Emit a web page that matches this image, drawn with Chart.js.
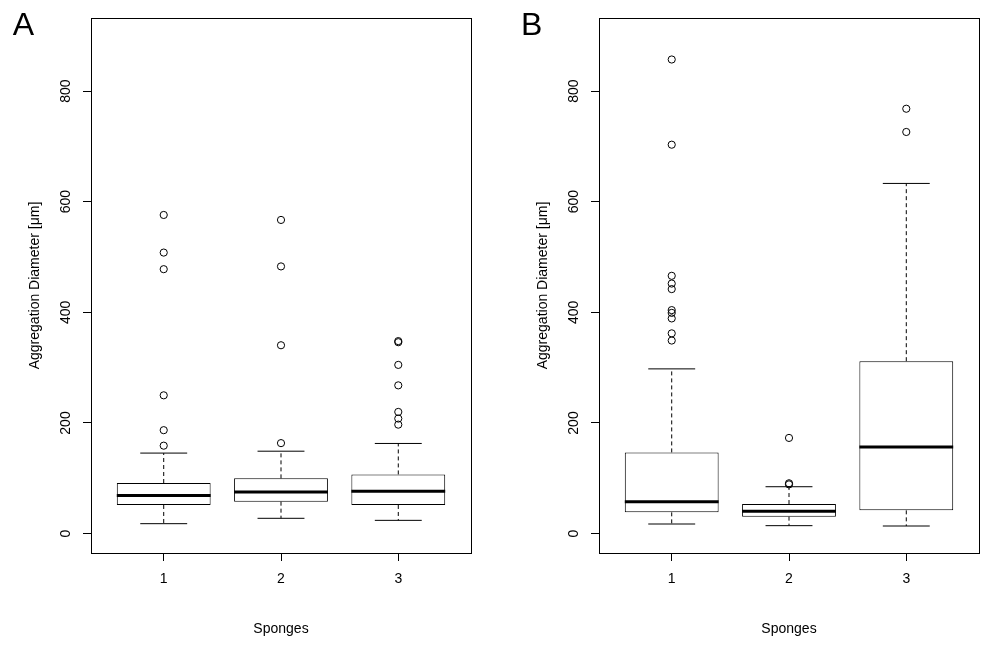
<!DOCTYPE html>
<html>
<head>
<meta charset="utf-8">
<script src="https://cdn.jsdelivr.net/npm/chart.js@4.4.1/dist/chart.umd.min.js"></script>
<style>
  html, body { margin: 0; padding: 0; background: #fff; }
  #wrap { position: relative; width: 998px; height: 653px; }
  canvas { position: absolute; top: 0; }
</style>
</head>
<body>
<div id="wrap">
  <canvas id="chartA" width="499" height="653" style="left:0"></canvas>
  <canvas id="chartB" width="499" height="653" style="left:499px"></canvas>
</div>
<script>
const sponges = ['1', '2', '3'];
const yTicks = [0, 200, 400, 600, 800];

// panel A
const aLow = [18, 27.7, 24];
const aQ1 = [51.8, 57.8, 51.8];
const aMedian = [69, 75.2, 76.4];
const aQ3 = [91.5, 99.9, 107];
const aHigh = [145.6, 149, 163];
const aOutliers = [
    [576, 508, 478, 250, 187, 159],
    [567, 483, 340.5, 163.6],
    [348, 346, 305, 268, 220, 208, 197]
];

// panel B
const bLow = [17.4, 14.4, 13.8];
const bQ1 = [38.5, 30.7, 42.1];
const bMedian = [57.8, 40.3, 156.4];
const bQ3 = [146.8, 53.5, 311.7];
const bHigh = [297.8, 84.8, 633];
const bOutliers = [
    [857, 703, 466, 452, 442, 404, 399, 389, 362, 349],
    [173, 91, 89],
    [768, 726]
];

const boxWidth = 0.8;
const capWidth = 0.4;
const font = '"Liberation Sans", Arial, Helvetica, sans-serif';

Chart.defaults.font.family = font;
Chart.defaults.color = '#000';

// half width in pixels of something that is w units wide on the x scale
function halfWidth(ctx, w) {
    const x = ctx.chart.scales.x;
    return Math.abs(x.getPixelForValue(1 + w / 2) - x.getPixelForValue(1));
}

const frame = {
    id: 'frame',
    afterDatasetsDraw(chart, args, opts) {
        const {ctx, chartArea: a} = chart;
        ctx.save();
        ctx.strokeStyle = '#000';
        ctx.lineWidth = 1;
        ctx.strokeRect(Math.round(a.left) + 0.5, Math.round(a.top) + 0.5,
            Math.round(a.right - a.left), Math.round(a.bottom - a.top));
        ctx.font = '32px ' + font;
        ctx.fillStyle = '#000';
        ctx.textBaseline = 'alphabetic';
        ctx.fillText(opts.letter, opts.x, 35);
        ctx.restore();
    }
};

function makeChart(id, letter, letterX, plotLeft, rightPad, low, q1, median, q3, high, outliers) {
    const whiskers = [];
    const caps = [];
    sponges.forEach((s, i) => {
        whiskers.push({x: i + 1, y: q3[i]}, {x: i + 1, y: high[i]}, {x: i + 1, y: null});
        whiskers.push({x: i + 1, y: q1[i]}, {x: i + 1, y: low[i]}, {x: i + 1, y: null});
        caps.push({x: i + 1, y: high[i]}, {x: i + 1, y: low[i]});
    });
    const outPoints = [];
    outliers.forEach((list, i) => list.forEach(v => outPoints.push({x: i + 1, y: v})));

    return new Chart(document.getElementById(id), {
        type: 'scatter',
        data: {
            datasets: [{
                type: 'scatter',
                data: sponges.map((s, i) => ({x: i + 1, y: median[i]})),
                pointStyle: 'line',
                pointRadius: ctx => halfWidth(ctx, boxWidth),
                pointBorderWidth: 3,
                pointBorderColor: '#000',
                order: 0
            }, {
                type: 'bar',
                data: sponges.map((s, i) => ({x: i + 1, y: [q1[i], q3[i]]})),
                backgroundColor: '#fff',
                borderColor: '#000',
                borderWidth: 1,
                borderSkipped: false,
                barPercentage: boxWidth,
                categoryPercentage: 1,
                order: 1
            }, {
                type: 'line',
                data: whiskers,
                borderColor: '#000',
                borderWidth: 1,
                borderDash: [4, 3],
                pointRadius: 0,
                fill: false,
                spanGaps: false,
                order: 2
            }, {
                type: 'scatter',
                data: caps,
                pointStyle: 'line',
                pointRadius: ctx => halfWidth(ctx, capWidth),
                pointBorderWidth: 1,
                pointBorderColor: '#000',
                order: 0
            }, {
                type: 'scatter',
                data: outPoints,
                pointStyle: 'circle',
                pointRadius: 3.6,
                pointBorderWidth: 1,
                pointBorderColor: '#000',
                pointBackgroundColor: 'rgba(0,0,0,0)',
                order: 0
            }]
        },
        options: {
            responsive: false,
            animation: false,
            devicePixelRatio: 1,
            layout: {padding: {left: 0, top: 18, right: rightPad, bottom: 0}},
            plugins: {
                legend: {display: false},
                tooltip: {enabled: false},
                frame: {letter: letter, x: letterX}
            },
            scales: {
                x: {
                    type: 'linear',
                    min: 0.38,
                    max: 3.62,
                    offset: false,
                    afterBuildTicks: s => { s.ticks = sponges.map((c, i) => ({value: i + 1})); },
                    afterFit: s => { s.height = 100; },
                    ticks: {
                        callback: v => sponges[v - 1],
                        padding: 10,
                        autoSkip: false,
                        maxRotation: 0,
                        font: {size: 14}
                    },
                    grid: {drawOnChartArea: false, offset: false, tickLength: 8, color: '#000'},
                    border: {display: false},
                    title: {display: true, text: 'Sponges', font: {size: 14}, padding: {top: 0, bottom: 15}}
                },
                y: {
                    type: 'linear',
                    min: -35,
                    max: 932,
                    afterBuildTicks: s => { s.ticks = yTicks.map(v => ({value: v})); },
                    afterFit: s => { s.width = plotLeft; },
                    ticks: {
                        minRotation: 90,
                        maxRotation: 90,
                        crossAlign: 'center',
                        padding: 5,
                        font: {size: 14}
                    },
                    grid: {drawOnChartArea: false, tickLength: 8, color: '#000'},
                    border: {display: false},
                    title: {
                        display: true,
                        text: 'Aggregation Diameter [μm]',
                        font: {size: 14},
                        padding: {top: plotLeft - 56 - 8.4, bottom: 0}
                    }
                }
            }
        },
        plugins: [frame]
    });
}

makeChart('chartA', 'A', 12.7, 91, 28, aLow, aQ1, aMedian, aQ3, aHigh, aOutliers);
makeChart('chartB', 'B', 22, 100, 19, bLow, bQ1, bMedian, bQ3, bHigh, bOutliers);
</script>
</body>
</html>
